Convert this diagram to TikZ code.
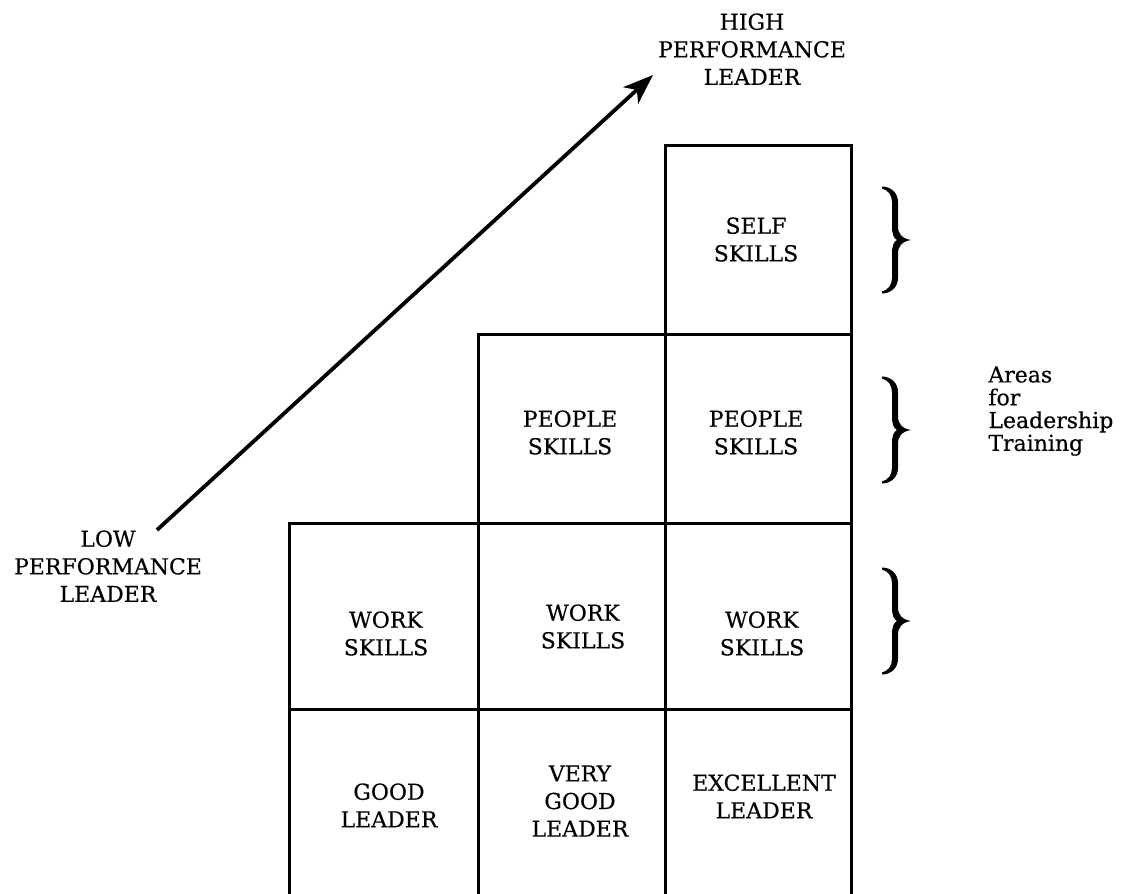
\documentclass[tikz,border=0pt]{standalone}
\usepackage{fontspec}
\setmainfont{DejaVu Serif}[FakeBold=0.4]
\usetikzlibrary{arrows.meta}

\tikzset{
  cellline/.style={line width=1.5pt},
  celltext/.style={anchor=north, align=center, inner sep=0pt, font=\fontsize{11}{13.8}\selectfont},
  sidetext/.style={anchor=north west, align=left, inner sep=0pt, font=\fontsize{11}{11.4}\selectfont},
  rise/.style={line width=1.9pt, -{Stealth[length=15pt, width=11pt, inset=4pt]}},
  % a heavy typeset brace, left end at the origin, point to the right
  pics/curly/.style={code={
    \fill (0,-53.5) .. controls (9,-53.5) and (16,-47) .. (16,-38) -- (16,-14)
      .. controls (16,-6) and (20,-1.5) .. (29,0)
      .. controls (20,1.5) and (16,6) .. (16,14) -- (16,38)
      .. controls (16,47) and (9,53.5) .. (0,53.5) -- (0,51.5)
      .. controls (6,50) and (10,45) .. (10,38) -- (10,14)
      .. controls (10,6) and (11.5,2) .. (15,0)
      .. controls (11.5,-2) and (10,-6) .. (10,-14) -- (10,-38)
      .. controls (10,-45) and (6,-50) .. (0,-51.5) -- cycle;
  }}
}

\begin{document}
\begin{tikzpicture}[x=0.5pt, y=-0.5pt]
  \useasboundingbox (0,0) rectangle (1132,894);
  \clip (0,0) rectangle (1132,894);

  % the stair of skill boxes, bottom row runs off the page
  \draw[cellline] (665,145) rectangle (851,334);
  \draw[cellline] (478,334) rectangle (665,523) (665,334) rectangle (851,523);
  \draw[cellline] (289,523) rectangle (478,709) (478,523) rectangle (665,709) (665,523) rectangle (851,709);
  \draw[cellline] (289,709) rectangle (478,920) (478,709) rectangle (665,920) (665,709) rectangle (851,920);

  \node[celltext] (self)    at (756,217) {SELF\\SKILLS};
  \node[celltext] (peopleA) at (570,410) {PEOPLE\\SKILLS};
  \node[celltext] (peopleB) at (756,410) {PEOPLE\\SKILLS};
  \node[celltext] (workA)   at (386,611) {WORK\\SKILLS};
  \node[celltext] (workB)   at (583,604) {WORK\\SKILLS};
  \node[celltext] (workC)   at (762,611) {WORK\\SKILLS};
  \node[celltext] (good)    at (389,783) {GOOD\\LEADER};
  \node[celltext] (vgood)   at (580,765) {VERY\\GOOD\\LEADER};
  \node[celltext] (excel)   at (764,774) {EXCELLENT\\LEADER};

  % low to high
  \node[celltext] (low)  at (108,530) {LOW\\PERFORMANCE\\LEADER};
  \node[celltext] (high) at (752,13) {HIGH\\PERFORMANCE\\LEADER};
  \coordinate (tail) at (157,530);
  \coordinate (tip)  at (653,75);
  \draw[rise] (tail) -- (tip);

  % braces beside the three skill rows
  \pic at (882,240) {curly};
  \pic at (882,430) {curly};
  \pic at (882,621) {curly};
  \node[sidetext] (areas) at (988,366) {Areas\\for\\Leadership\\Training};
\end{tikzpicture}
\end{document}
